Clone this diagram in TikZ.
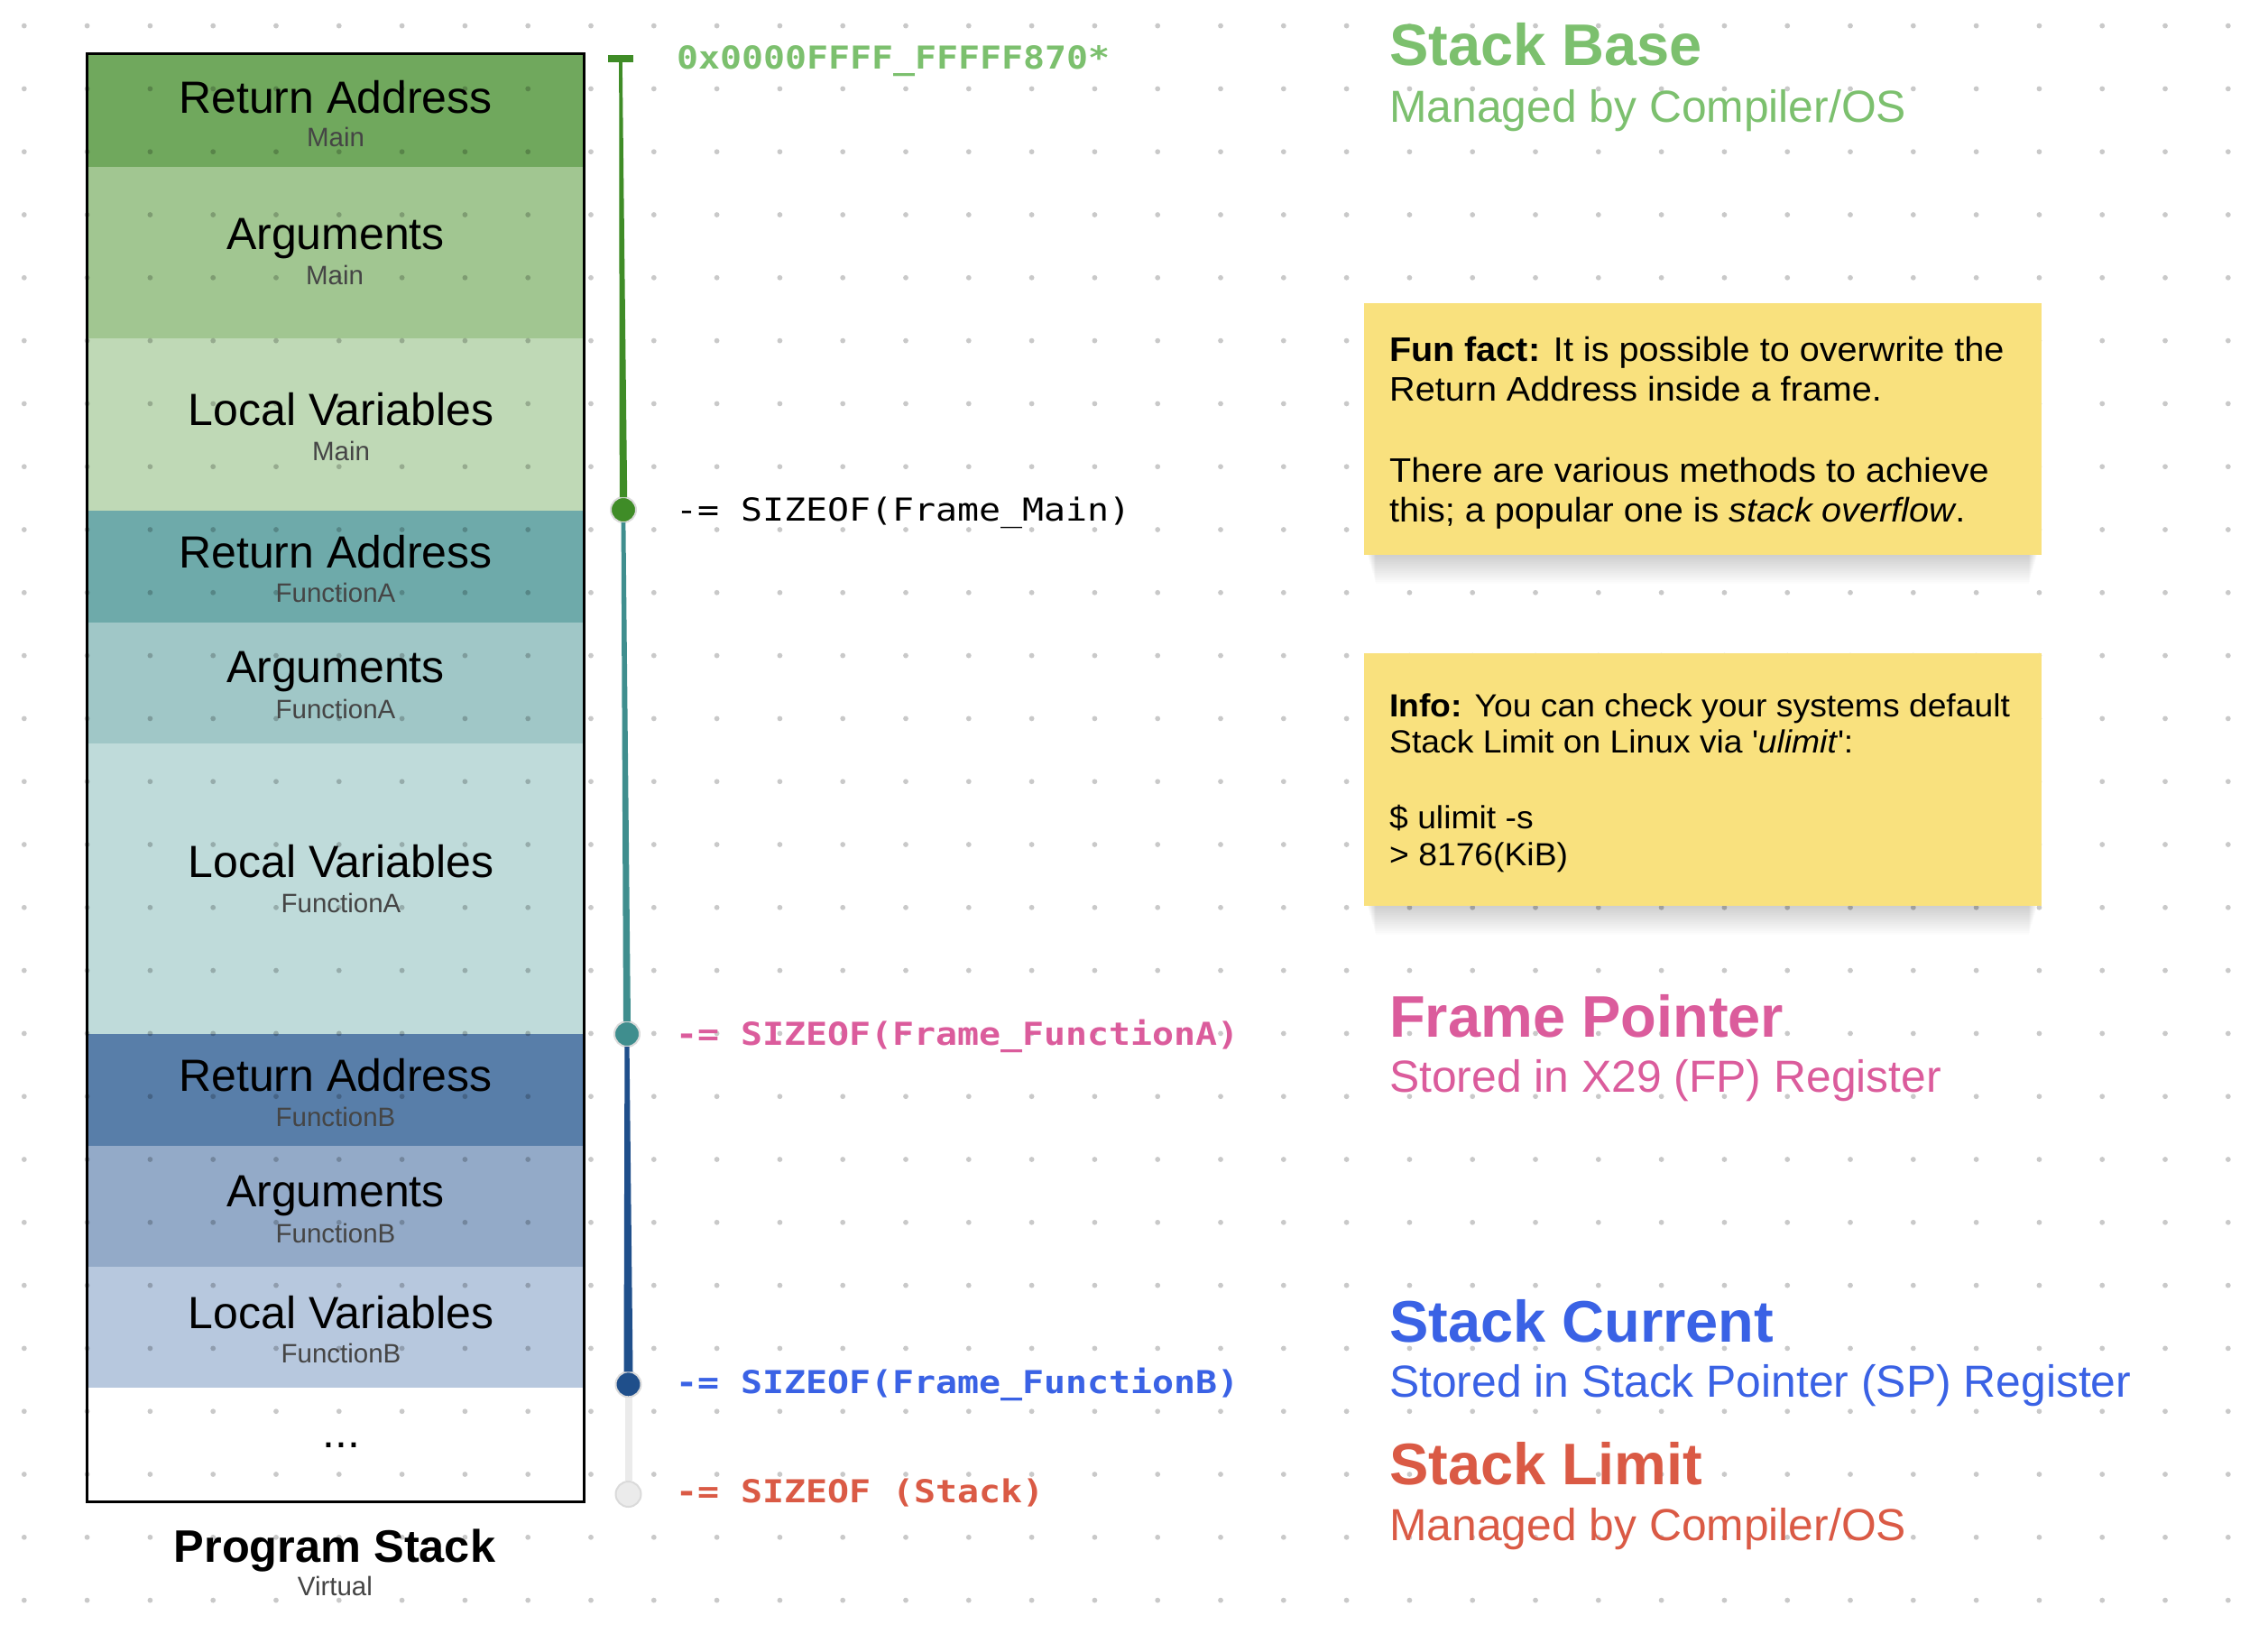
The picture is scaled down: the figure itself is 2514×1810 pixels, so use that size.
\documentclass[tikz,border=0pt]{standalone}
\usepackage{fontspec}
\setmainfont{Liberation Sans}
\newfontfamily\monofam[FakeStretch=1.14]{DejaVu Sans Mono}
\newfontfamily\notefam[FakeStretch=1.05]{Liberation Sans}
\usetikzlibrary{calc}
\newcommand\fsz[1]{\fontsize{#1}{#1}\selectfont}
\definecolor{raM}{HTML}{70A85D}
\definecolor{arM}{HTML}{A1C691}
\definecolor{lvM}{HTML}{BFD9B6}
\definecolor{raA}{HTML}{6EAAAA}
\definecolor{arA}{HTML}{A0C7C7}
\definecolor{lvA}{HTML}{BFDBDA}
\definecolor{raB}{HTML}{587EA9}
\definecolor{arB}{HTML}{93AAC8}
\definecolor{lvB}{HTML}{B7C8DE}
\definecolor{subgrey}{HTML}{454545}
\definecolor{lgreen}{HTML}{7CC06E}
\definecolor{dgreen}{HTML}{3F8C27}
\definecolor{dteal}{HTML}{3F8E8E}
\definecolor{dblue}{HTML}{1F4F8B}
\definecolor{lgrey}{HTML}{EBEBEB}
\definecolor{halo}{HTML}{DADADA}
\definecolor{pink}{HTML}{DB5C9C}
\definecolor{cblue}{HTML}{3A62E5}
\definecolor{cred}{HTML}{DA5A45}
\definecolor{noteyellow}{HTML}{F9E17E}
\begin{document}
\begin{tikzpicture}[x=1pt,y=-1pt,
  seg/.style={rectangle, inner sep=0, minimum width=551, draw=none},
  title/.style={anchor=base, inner sep=0, font=\fsz{50}},
  subt/.style={anchor=base, inner sep=0, font=\fsz{29.5}, text=subgrey},
  lbl/.style={anchor=base west, inner sep=0, font=\monofam\fsz{35}},
  lblb/.style={anchor=base west, inner sep=0, font=\monofam\bfseries\fsz{35}},
  head/.style={anchor=base west, inner sep=0, font=\bfseries\fsz{65}},
  subhead/.style={anchor=base west, inner sep=0, font=\fsz{49.8}},
  notebox/.style={rectangle, inner sep=0, fill=noteyellow, minimum width=751.5},
  notetxt/.style={anchor=base west, inner sep=0, font=\notefam\fsz{37.7}},
  infotxt/.style={anchor=base west, inner sep=0, font=\notefam\fsz{35.5}},
  mk/.style={circle, inner sep=0, minimum size=28, draw=halo, line width=2},
  topbar/.style={rectangle, inner sep=0, minimum width=28, minimum height=8, fill=dgreen}
]
\useasboundingbox (0,0) rectangle (2514,1810);
\fill[white] (0,0) rectangle (2514,1810);

% stack segments
\node[seg, fill=raM, minimum height=125.7] (s1) at (371.5,121.85) {};
\node[seg, fill=arM, minimum height=189.8] (s2) at (371.5,279.6) {};
\node[seg, fill=lvM, minimum height=191] (s3) at (371.5,470) {};
\node[seg, fill=raA, minimum height=124.2] (s4) at (371.5,627.6) {};
\node[seg, fill=arA, minimum height=134] (s5) at (371.5,756.7) {};
\node[seg, fill=lvA, minimum height=322.3] (s6) at (371.5,984.85) {};
\node[seg, fill=raB, minimum height=124.4] (s7) at (371.5,1208.2) {};
\node[seg, fill=arB, minimum height=133.4] (s8) at (371.5,1337.1) {};
\node[seg, fill=lvB, minimum height=133.9] (s9) at (371.5,1470.75) {};

% dot grid
\foreach \i in {0,...,35}{\foreach \j in {0,...,25}{
  \fill[black, opacity=0.21] (26.8+69.8*\i, 28.6+69.8*\j) circle (2.9);}}

% stack border
\node[rectangle, draw=black, line width=3, inner sep=0, minimum width=551, minimum height=1605] (stack) at (371.5,861.5) {};

% segment labels
\node[title] (t1) at (372,125) {Return Address};
\node[subt] (u1) at (372,162) {Main};
\node[title] (t2) at (372,276) {Arguments};
\node[subt] (u2) at (371,315) {Main};
\node[title] (t3) at (378,471) {Local Variables};
\node[subt] (u3) at (378,510) {Main};
\node[title] (t4) at (372,629) {Return Address};
\node[subt] (u4) at (372,667.5) {FunctionA};
\node[title] (t5) at (372,756.5) {Arguments};
\node[subt] (u5) at (372,796) {FunctionA};
\node[title] (t6) at (378,972.4) {Local Variables};
\node[subt] (u6) at (378,1011) {FunctionA};
\node[title] (t7) at (372,1209) {Return Address};
\node[subt] (u7) at (372,1248) {FunctionB};
\node[title] (t8) at (372,1337.3) {Arguments};
\node[subt] (u8) at (372,1377) {FunctionB};
\node[title] (t9) at (378,1472) {Local Variables};
\node[subt] (u9) at (378,1510.7) {FunctionB};
\node[title] (t10) at (378.6,1604.6) {...};
\node[title, font=\bfseries\fsz{50.5}] (ps) at (371,1731) {Program Stack};
\node[subt] (psv) at (371.4,1768) {Virtual};

% timeline markers
\node[topbar] (base) at (688,64.8) {};
\node[mk, fill=dgreen] (pmain) at (691,565) {};
\node[mk, fill=dteal] (pfa) at (695,1146) {};
\node[mk, fill=dblue] (pfb) at (696.5,1534.3) {};
\node[mk, fill=lgrey] (plim) at (696.5,1656) {};

% connectors (tapered strokes)
\fill[dgreen] ($(base.south)+(-1.8,0)$) -- ($(pmain.north)+(-4.2,1)$) -- ($(pmain.north)+(4.2,1)$) -- ($(base.south)+(1.8,0)$) -- cycle;
\fill[dteal] ($(pmain.south)+(-2.4,-1)$) -- ($(pfa.north)+(-4,1)$) -- ($(pfa.north)+(4,1)$) -- ($(pmain.south)+(2.4,-1)$) -- cycle;
\fill[dblue] ($(pfa.south)+(-2.6,-1)$) -- ($(pfb.north)+(-5,1)$) -- ($(pfb.north)+(5,1)$) -- ($(pfa.south)+(2.6,-1)$) -- cycle;
\draw[lgrey, line width=8] (pfb.south) -- (plim.north);

% timeline labels
\node[lblb, text=lgreen] (addr) at (750,76) {0x0000FFFF\_FFFFF870*};
\node[lbl, text=black] (lmain) at (749,577) {-= SIZEOF(Frame\_Main)};
\node[lblb, text=pink] (lfa) at (749,1158) {-= SIZEOF(Frame\_FunctionA)};
\node[lblb, text=cblue] (lfb) at (749,1544.4) {-= SIZEOF(Frame\_FunctionB)};
\node[lblb, text=cred] (lst) at (749,1665.6) {-= SIZEOF (Stack)};

% headings
\node[head, text=lgreen] (hb) at (1540,72) {Stack Base};
\node[subhead, text=lgreen] (hbs) at (1540,135.5) {Managed by Compiler/OS};
\node[head, text=pink] (hf) at (1540,1149) {Frame Pointer};
\node[subhead, text=pink] (hfs) at (1540,1210) {Stored in X29 (FP) Register};
\node[head, text=cblue] (hc) at (1540,1487) {Stack Current};
\node[subhead, text=cblue] (hcs) at (1540,1548) {Stored in Stack Pointer (SP) Register};
\node[head, text=cred] (hl) at (1540,1645.5) {Stack Limit};
\node[subhead, text=cred] (hls) at (1540,1707.7) {Managed by Compiler/OS};

% note shadows
\foreach \k in {0,...,15}{
  \fill[black, opacity=0.013] (1516+0.6*\k,614.5) rectangle (2258-0.6*\k,614.5+2*\k+2);
  \fill[black, opacity=0.013] (1516+0.6*\k,1003.6) rectangle (2258-0.6*\k,1003.6+2*\k+2);
}
% notes
\node[notebox, minimum height=278.5] (fun) at (1887.25,475.25) {};
\node[notebox, minimum height=279.6] (info) at (1887.25,863.8) {};

\node[notetxt] (f1) at (1540,400) {\textbf{Fun fact:} It is possible to overwrite the};
\node[notetxt] (f2) at (1540,444.5) {Return Address inside a frame.};
\node[notetxt] (f3) at (1540,534) {There are various methods to achieve};
\node[notetxt] (f4) at (1540,578.5) {this; a popular one is \textit{stack overflow}.};

\node[infotxt] (i1) at (1540,794) {\textbf{Info:} You can check your systems default};
\node[infotxt] (i2) at (1540,834.3) {Stack Limit on Linux via \textquotesingle\textit{ulimit}\textquotesingle:};
\node[infotxt] (i3) at (1540,918) {\$ ulimit -s};
\node[infotxt] (i4) at (1540,959) {> 8176(KiB)};
\end{tikzpicture}
\end{document}
